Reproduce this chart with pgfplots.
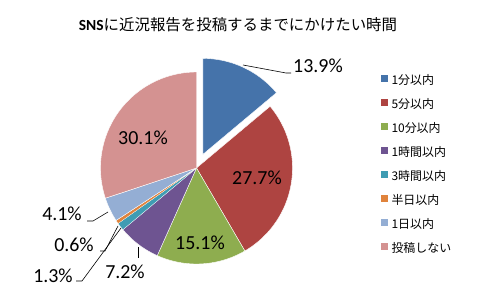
\documentclass[border=0pt]{standalone}
\usepackage{pgfplots}
\pgfplotsset{compat=1.18}
\usepackage{fontspec}
\setmainfont{Carlito}
\newfontfamily\jp{Noto Sans CJK JP}
\definecolor{c1}{HTML}{4573AA}
\definecolor{c2}{HTML}{AE4441}
\definecolor{c3}{HTML}{8EAD4F}
\definecolor{c4}{HTML}{6E5491}
\definecolor{c5}{HTML}{3F9CB3}
\definecolor{c6}{HTML}{E0833C}
\definecolor{c7}{HTML}{94AED4}
\definecolor{c8}{HTML}{D49291}
\begin{document}
\begin{tikzpicture}
\useasboundingbox (0,0) rectangle (480bp,300bp);
% shares in percent, clockwise from 12 o'clock
\pgfmathsetmacro\aO{90}
\pgfmathsetmacro\aA{\aO-3.6*13.9}
\pgfmathsetmacro\aB{\aA-3.6*27.7}
\pgfmathsetmacro\aC{\aB-3.6*15.1}
\pgfmathsetmacro\aD{\aC-3.6*7.2}
\pgfmathsetmacro\aE{\aD-3.6*1.3}
\pgfmathsetmacro\aF{\aE-3.6*0.6}
\pgfmathsetmacro\aG{\aF-3.6*4.1}
\pgfmathsetmacro\aH{\aG-3.6*30.1}
\def\cx{196.5}\def\cy{132}\def\R{96}
\pgfmathsetmacro\ex{\cx+15*cos((\aO+\aA)/2)}
\pgfmathsetmacro\ey{\cy+15*sin((\aO+\aA)/2)}
\begin{axis}[at={(0,0)}, anchor=south west, scale only axis,
  width=480bp, height=300bp, xmin=0, xmax=480, ymin=0, ymax=300,
  hide axis, clip=false,
  legend image code/.code={\path[#1,draw=none] (0bp,-1bp) rectangle (6.5bp,5.5bp);},
  legend cell align=left,
  legend style={draw=none, fill=none, inner sep=0pt, outer sep=0pt,
    at={(axis cs:381,225.5)}, anchor=north west,
    font=\jp\fontsize{12}{12}\selectfont,
    nodes={inner sep=0pt, text height=10bp, text depth=2bp},
    row sep=12bp, column sep=4bp},
  legend entries={1分以内,5分以内,10分以内,1時間以内,3時間以内,半日以内,1日以内,投稿しない},
]
\addplot[fill=c1, draw=white, line width=0.4pt, domain=\aA:\aO, samples=40, variable=\t] ({\ex+\R*cos(\t)},{\ey+\R*sin(\t)}) -- (axis cs:\ex,\ey) -- cycle;
\addplot[fill=c2, draw=white, line width=0.4pt, domain=\aB:\aA, samples=60, variable=\t] ({\cx+\R*cos(\t)},{\cy+\R*sin(\t)}) -- (axis cs:\cx,\cy) -- cycle;
\addplot[fill=c3, draw=white, line width=0.4pt, domain=\aC:\aB, samples=40, variable=\t] ({\cx+\R*cos(\t)},{\cy+\R*sin(\t)}) -- (axis cs:\cx,\cy) -- cycle;
\addplot[fill=c4, draw=white, line width=0.4pt, domain=\aD:\aC, samples=20, variable=\t] ({\cx+\R*cos(\t)},{\cy+\R*sin(\t)}) -- (axis cs:\cx,\cy) -- cycle;
\addplot[fill=c5, draw=white, line width=0.2pt, domain=\aE:\aD, samples=5, variable=\t] ({\cx+\R*cos(\t)},{\cy+\R*sin(\t)}) -- (axis cs:\cx,\cy) -- cycle;
\addplot[fill=c6, draw=white, line width=0.2pt, domain=\aF:\aE, samples=4, variable=\t] ({\cx+\R*cos(\t)},{\cy+\R*sin(\t)}) -- (axis cs:\cx,\cy) -- cycle;
\addplot[fill=c7, draw=white, line width=0.4pt, domain=\aG:\aF, samples=12, variable=\t] ({\cx+\R*cos(\t)},{\cy+\R*sin(\t)}) -- (axis cs:\cx,\cy) -- cycle;
\addplot[fill=c8, draw=white, line width=0.4pt, domain=\aH:\aG, samples=60, variable=\t] ({\cx+\R*cos(\t)},{\cy+\R*sin(\t)}) -- (axis cs:\cx,\cy) -- cycle;
% leader lines
\addplot[forget plot, black, line width=0.6pt] coordinates {(243,235) (286,227) (291,227)};
\addplot[forget plot, black, line width=0.6pt] coordinates {(87,79) (93,79) (108,88)};
\addplot[forget plot, black, line width=0.6pt] coordinates {(100,49) (105,49) (118,74)};
\addplot[forget plot, black, line width=0.6pt] coordinates {(76,19) (82,19) (121,72)};
\addplot[forget plot, black, line width=0.6pt] coordinates {(138,53) (138,42)};
% labels
\begin{scope}[every node/.style={font=\fontsize{20}{20}\selectfont, inner sep=0pt}]
\node at (axis cs:318,234) {13.9\%};
\node at (axis cs:257,122) {27.7\%};
\node at (axis cs:200,57) {15.1\%};
\node at (axis cs:125,28) {7.2\%};
\node at (axis cs:53,24) {1.3\%};
\node at (axis cs:74,55) {0.6\%};
\node at (axis cs:62,86) {4.1\%};
\node at (axis cs:143,162) {30.1\%};
\end{scope}
\node[font=\fontsize{15.5}{16}\selectfont, inner sep=0pt] at (axis cs:238,275) {\textbf{SNS}{\jp に近況報告を投稿するまでにかけたい時間}};
\end{axis}
\end{tikzpicture}
\end{document}
